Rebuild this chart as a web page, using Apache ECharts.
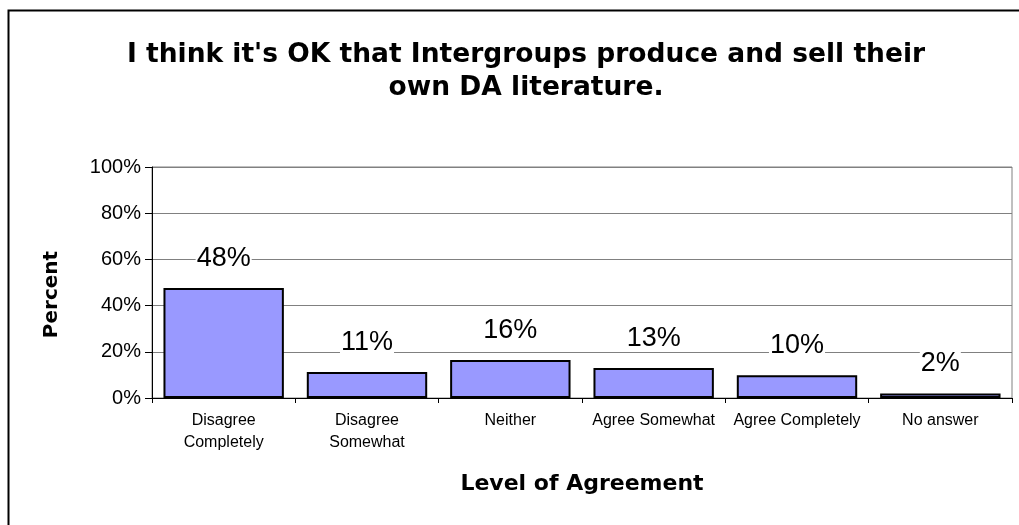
<!DOCTYPE html>
<html>
<head>
<meta charset="utf-8">
<script src="https://cdn.jsdelivr.net/npm/echarts@6/dist/echarts.min.js"></script>
<style>html,body{margin:0;padding:0;background:#fff}#c{width:1019px;height:525px}</style>
</head>
<body>
<div id="c"></div>
<script>
var categories = ['Disagree\nCompletely', 'Disagree\nSomewhat', 'Neither', 'Agree Somewhat', 'Agree Completely', 'No answer'];
var percentValues = [47.6, 11.3, 16.4, 13.0, 9.9, 2.0];
var yTicks = [0, 20, 40, 60, 80, 100];

var chart = echarts.init(document.getElementById('c'));
var F = 'Liberation Sans, Arial, sans-serif';
var FB = 'DejaVu Sans, Liberation Sans, sans-serif';
chart.setOption({
  animation: false,
  backgroundColor: '#fff',
  title: {
    text: "I think it's OK that Intergroups produce and sell their\nown DA literature.",
    left: 521, textAlign: 'center', top: 34,
    textStyle: { fontFamily: FB, fontSize: 26.5, fontWeight: 'bold', color: '#000', lineHeight: 33 }
  },
  graphic: [{
    type: 'rect', shape: { x: 8.5, y: 10.5, width: 1100, height: 600 },
    style: { fill: 'none', stroke: '#000', lineWidth: 2 }, silent: true
  }],
  grid: { left: 152, top: 167, right: 7, bottom: 127, show: true, borderColor: '#808080', borderWidth: 1, backgroundColor: 'transparent' },
  xAxis: {
    type: 'category', data: categories,
    name: 'Level of Agreement', nameLocation: 'middle', nameGap: 75,
    nameTextStyle: { fontFamily: FB, fontSize: 22, fontWeight: 'bold', color: '#000' },
    axisLine: { lineStyle: { color: '#000', width: 1 } },
    axisTick: { show: true, alignWithLabel: false, length: 5, lineStyle: { color: '#000' } },
    axisLabel: { fontFamily: F, fontSize: 16, color: '#000', margin: 12, lineHeight: 22, interval: 0 }
  },
  yAxis: {
    type: 'value', min: 0, max: 100, interval: 20,
    name: 'Percent', nameLocation: 'middle', nameGap: 90,
    nameTextStyle: { fontFamily: FB, fontSize: 20, fontWeight: 'bold', color: '#000', padding: [0, 24, 0, 0] },
    axisLine: { show: true, lineStyle: { color: '#000', width: 1 } },
    axisTick: { show: true, length: 7, lineStyle: { color: '#000' } },
    axisLabel: { fontFamily: F, fontSize: 20, color: '#000', margin: 11,
      formatter: function (v) { return yTicks.indexOf(v) >= 0 ? v + '%' : ''; } },
    splitLine: { show: true, lineStyle: { color: '#808080', width: 1 } }
  },
  series: [{
    type: 'bar', data: percentValues, barCategoryGap: '16%',
    itemStyle: { color: '#9999FF', borderColor: '#000', borderWidth: 2 },
    label: {
      show: true, position: 'top', distance: 16,
      formatter: function (p) { return Math.round(p.value) + '%'; },
      fontFamily: F, fontSize: 27, color: '#000', backgroundColor: '#fff', padding: [0, 1]
    }
  }]
});
</script>
</body>
</html>
